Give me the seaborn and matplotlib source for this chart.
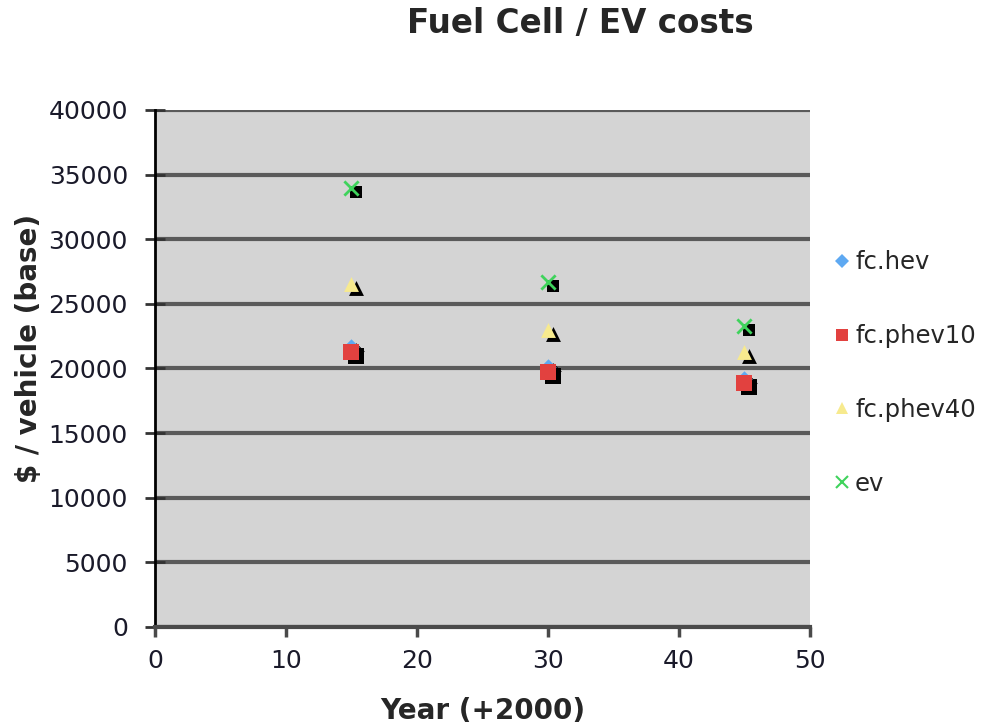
import matplotlib
matplotlib.use("Agg")
import matplotlib.pyplot as plt
import matplotlib.transforms as mtransforms
from matplotlib.lines import Line2D
import seaborn as sns
import pandas as pd

years = [15, 30, 45]
series_names = ["fc.hev", "fc.phev10", "fc.phev40", "ev"]
fc_hev = [21700, 20100, 19200]
fc_phev10 = [21300, 19700, 18900]
fc_phev40 = [26500, 23000, 21300]
ev = [34000, 26700, 23300]
y_ticks = [0, 5000, 10000, 15000, 20000, 25000, 30000, 35000, 40000]
x_ticks = [0, 10, 20, 30, 40, 50]

colors = {"fc.hev": "#5ea9f2", "fc.phev10": "#e2413f", "fc.phev40": "#f7ea8e", "ev": "#3fd35c"}
markers = {"fc.hev": "D", "fc.phev10": "s", "fc.phev40": "^", "ev": "x"}
shadow_markers = {"fc.hev": "D", "fc.phev10": "s", "fc.phev40": "^", "ev": "s"}
sizes = {"fc.hev": 70, "fc.phev10": 125, "fc.phev40": 115, "ev": 105}
shadow_sizes = {"fc.hev": 70, "fc.phev10": 125, "fc.phev40": 115, "ev": 75}

values = {"fc.hev": fc_hev, "fc.phev10": fc_phev10, "fc.phev40": fc_phev40, "ev": ev}

sns.set_theme(style="white")
plt.rcParams['font.family'] = ['DejaVu Sans']

fig = plt.figure(figsize=(9.84, 7.27), dpi=100)
ax = fig.add_axes([0.1575, 0.1376, 0.823 - 0.1575, 0.8487 - 0.1376])
ax.set_facecolor("#d4d4d4")

shadow_tf = ax.transData + mtransforms.ScaledTranslation(5 / 100, -4 / 100, fig.dpi_scale_trans)

for name in series_names:
    df = pd.DataFrame({"year": years, "cost": values[name]})
    sns.scatterplot(data=df, x="year", y="cost", ax=ax, color="black",
                    marker=shadow_markers[name], s=shadow_sizes[name],
                    linewidth=0, legend=False, zorder=3)
    ax.collections[-1].set_offset_transform(shadow_tf)
    if name == "ev":
        sns.scatterplot(data=df, x="year", y="cost", ax=ax, color=colors[name],
                        marker="x", s=sizes[name], linewidth=2, legend=False, zorder=4)
    else:
        sns.scatterplot(data=df, x="year", y="cost", ax=ax, color=colors[name],
                        marker=markers[name], s=sizes[name], linewidth=0,
                        legend=False, zorder=4)

ax.set_xlim(0, 50)
ax.set_ylim(0, 40000)
ax.set_xticks(x_ticks)
ax.set_yticks(y_ticks)
ax.yaxis.grid(True, color="#5a5a5a", linewidth=3)
ax.xaxis.grid(False)
ax.set_axisbelow(True)
for s in ["top", "right"]:
    ax.spines[s].set_visible(False)
ax.spines["left"].set_color("black")
ax.spines["left"].set_linewidth(2)
ax.spines["bottom"].set_color("#4a4a4a")
ax.spines["bottom"].set_linewidth(3)
ax.tick_params(axis="y", which="major", direction="inout", length=15, width=2,
               color="#333333", labelsize=18, labelcolor="#1a1a2a", left=True, pad=12)
ax.tick_params(axis="x", which="major", direction="out", length=7, width=2.5,
               color="#4a4a4a", labelsize=18, labelcolor="#1a1a2a", bottom=True, pad=9)

ax.set_xlabel("Year (+2000)", fontsize=20, fontweight="bold", labelpad=17)
ax.set_ylabel("$ / vehicle (base)", fontsize=20, fontweight="bold")
ax.yaxis.set_label_coords(-0.171, 0.539)

fig.text(0.59, 0.968, "Fuel Cell / EV costs", fontsize=23.5, fontweight="bold",
         ha="center", va="center")

handles = []
for name in series_names:
    if name == "ev":
        h = Line2D([], [], linestyle="none", marker="x", color=colors[name],
                   markersize=8, markeredgewidth=1.5)
    else:
        h = Line2D([], [], linestyle="none", marker=markers[name], color=colors[name],
                   markersize=9 if name != "fc.hev" else 7, markeredgewidth=0)
    handles.append(h)
fig.legend(handles, series_names, loc="center left", bbox_to_anchor=(0.848, 0.487),
           frameon=False, fontsize=17.5, labelspacing=2.05, handlelength=0.6,
           handletextpad=0.25, borderaxespad=0, borderpad=0)

fig.savefig("out.png", dpi=100)
